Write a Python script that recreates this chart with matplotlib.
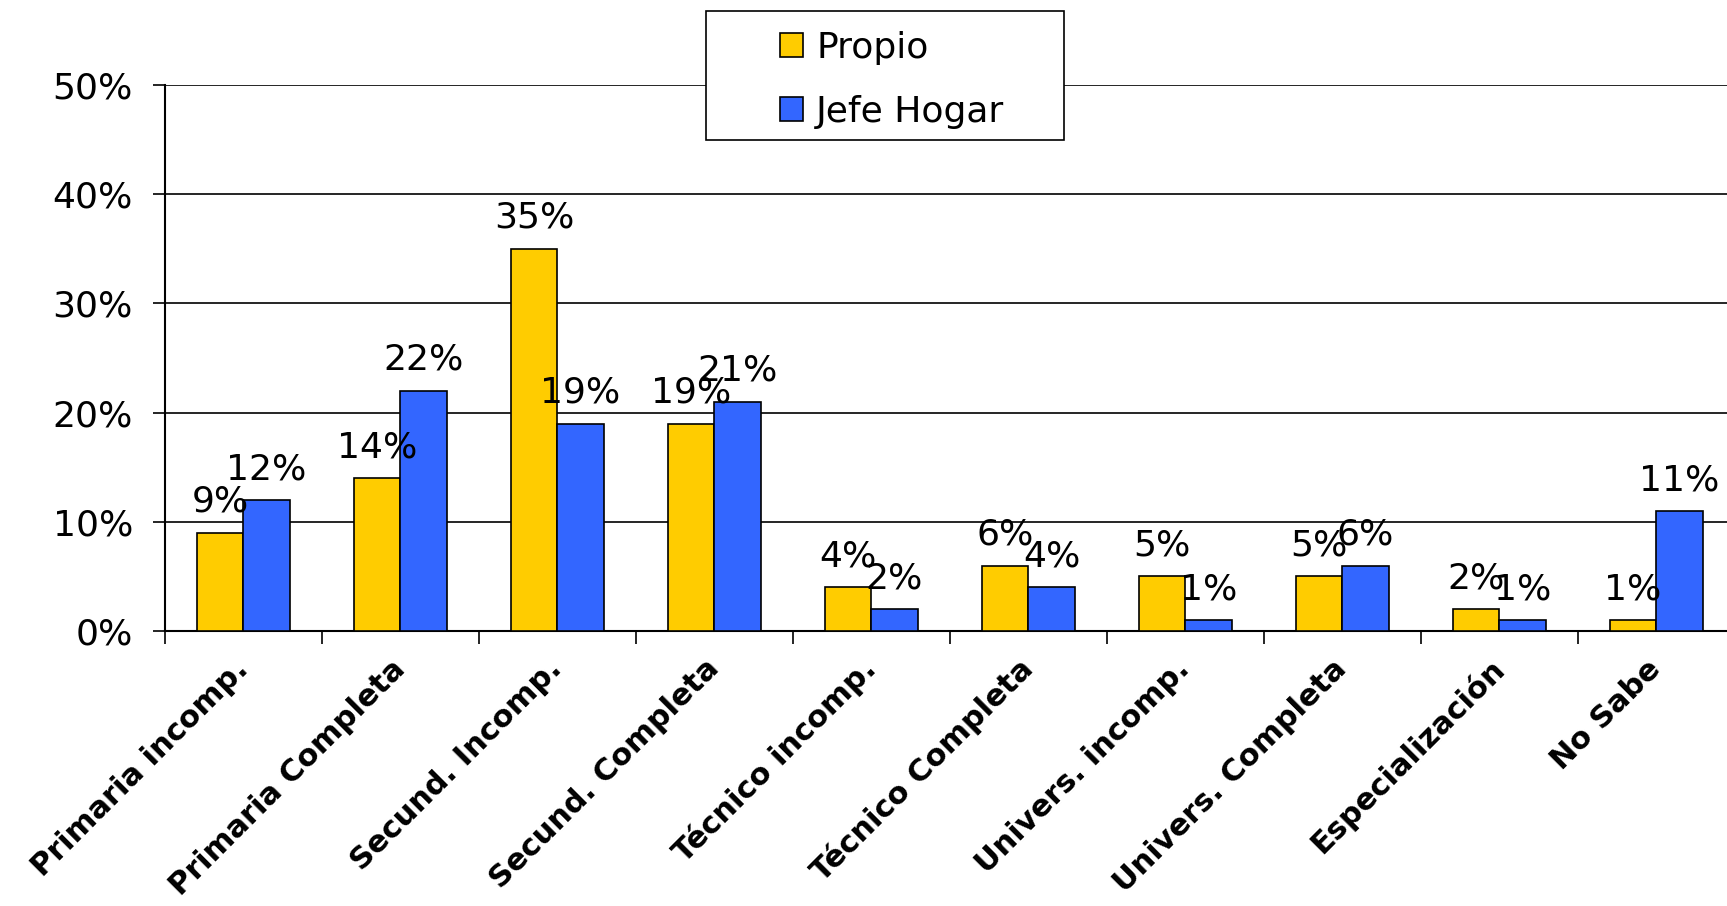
import matplotlib.pyplot as plt
from matplotlib.patches import Rectangle
import numpy as np

categorias = ['Primaria incomp.', 'Primaria Completa', 'Secund. Incomp.',
              'Secund. Completa', 'Técnico incomp.', 'Técnico Completa',
              'Univers. incomp.', 'Univers. Completa', 'Especialización',
              'No Sabe']
propio = [9, 14, 35, 19, 4, 6, 5, 5, 2, 1]
jefe_hogar = [12, 22, 19, 21, 2, 4, 1, 6, 1, 11]

amarillo = '#FFCC00'
azul = '#3366FF'

plt.rcParams['font.family'] = ['DejaVu Sans']

fig = plt.figure(figsize=(17.27, 9.06), dpi=100)
ax = fig.add_axes([0.0955, 0.3035, 0.909, 0.6026])

x = np.arange(len(categorias))
ancho = 0.295

b1 = ax.bar(x - ancho / 2, propio, ancho, color=amarillo, edgecolor='black',
            linewidth=1.2, label='Propio', zorder=3)
b2 = ax.bar(x + ancho / 2, jefe_hogar, ancho, color=azul, edgecolor='black',
            linewidth=1.2, label='Jefe Hogar', zorder=3)

# etiquetas de valor sobre cada barra
for barras, vals in ((b1, propio), (b2, jefe_hogar)):
    for rect, v in zip(barras, vals):
        ax.annotate(f'{v}%', (rect.get_x() + rect.get_width() / 2, v),
                    xytext=(0, 10), textcoords='offset points',
                    ha='center', va='bottom', fontsize=26, zorder=5)

ax.set_xlim(-0.5, len(categorias) - 0.5)
ax.set_ylim(0, 50)
ax.set_yticks(np.arange(0, 51, 10))
ax.set_yticklabels([f'{v}%' for v in range(0, 51, 10)], fontsize=26)
ax.yaxis.grid(True, color='black', linewidth=1.2, zorder=0)

# marcas en los límites de categoría, etiquetas en el centro
ax.set_xticks(np.arange(-0.5, len(categorias)), minor=False)
ax.set_xticklabels([])
ax.set_xticks(x, minor=True)
ax.set_xticklabels(categorias, minor=True, rotation=45, ha='right',
                   va='center', rotation_mode='anchor', fontsize=22,
                   fontweight='bold')
ax.tick_params(axis='x', which='minor', length=0, pad=24)
ax.tick_params(axis='x', which='major', length=9, width=1.2, direction='out')
ax.tick_params(axis='y', length=9, width=1.2, direction='out', pad=14)

for lado in ('top', 'right'):
    ax.spines[lado].set_visible(False)
for lado in ('left', 'bottom'):
    ax.spines[lado].set_linewidth(1.5)

# recuadro de la leyenda
W, H = 1727, 906
caja = Rectangle((706 / W, 1 - 140 / H), 358 / W, 129 / H,
                 transform=fig.transFigure, facecolor='white',
                 edgecolor='black', linewidth=1.2, zorder=10)
fig.patches.append(caja)

leg = fig.legend(loc='upper left', bbox_to_anchor=(780 / W, 1 - 31 / H),
                 fontsize=26, frameon=False, handlelength=0.65,
                 handleheight=0.65, handletextpad=0.35, borderpad=0,
                 labelspacing=0.82, borderaxespad=0)
leg.set_zorder(11)

fig.savefig('out.png', dpi=100, facecolor='white')
